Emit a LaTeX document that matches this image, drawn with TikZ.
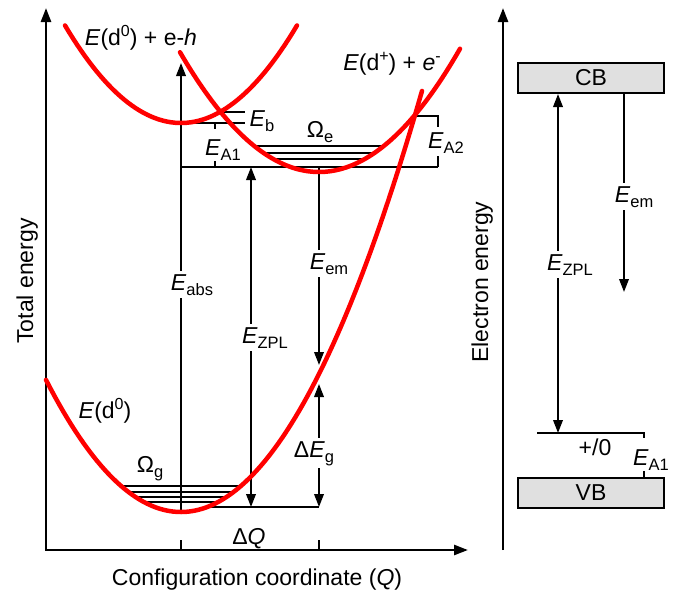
\documentclass[tikz,border=0pt]{standalone}
\usepackage{fontspec}
\setmainfont{Liberation Sans}
\usepackage{tikz}
\usetikzlibrary{arrows.meta,positioning,calc}
\definecolor{potred}{HTML}{FF0000}
\definecolor{bandgray}{HTML}{E0E0E0}
\newcommand{\subtxt}[1]{\raisebox{-5pt}{\fontsize{16.5}{18}\selectfont #1}}
\newcommand{\suptxt}[1]{\raisebox{9pt}{\fontsize{16}{18}\selectfont #1}}
\tikzset{
  >={Triangle[length=13pt,width=9.5pt]},
  % axlar
  ax/.style={line width=2.6pt,>={Triangle[length=14pt,width=10pt]}},
  % kurvor och nivaer
  pot/.style={draw=potred,line width=4.5pt,line cap=round},
  lvl/.style={draw=black,line width=2pt},
  tr/.style={draw=black,line width=2pt},
  lbl/.style={anchor=base,inner sep=0pt},
  cut/.style={anchor=base,fill=white,inner sep=3pt},
  band/.style={draw=black,fill=bandgray,line width=2pt,minimum width=146pt,
               minimum height=30pt,inner sep=0pt},
}
\begin{document}
\begin{tikzpicture}[x=1pt,y=-1pt,every node/.append style={font=\fontsize{23}{27}\selectfont}]
  \useasboundingbox (0,0) rectangle (679,589);
  % axlar
  \coordinate (o) at (46,550);
  \coordinate (yt) at (46,8);
  \coordinate (xt) at (468,550);
  \coordinate (ro) at (503,550);
  \coordinate (rt) at (503,8);
  \draw[ax,<->] (yt) -- (o) -- (xt);
  \draw[ax,->] (ro) -- (rt);
  \coordinate (q0) at (181,550);
  \coordinate (q1) at (319,550);
  \draw[lvl] (q0) -- ++(0,-10);
  \draw[lvl] (q1) -- ++(0,-10);
  \node[lbl,rotate=90] (tot) at (33,281) {Total energy};
  \node[lbl] (cfg) at (257,585) {Configuration coordinate (\textit{Q})};
  \node[lbl,rotate=90] (eln) at (488,282) {Electron energy};
  \node[lbl] (dq) at (249,544) {Δ\textit{Q}};
  % nivaer
  \foreach \y in {486,491.5,497,502} {
    \pgfmathsetmacro\dx{sqrt(512-\y)/0.08515}
    \draw[lvl] ({181-\dx},\y) -- ({181+\dx},\y);
  }
  \foreach \y in {146,152.5,159} {
    \pgfmathsetmacro\dx{sqrt(172-\y)/0.07874}
    \draw[lvl] ({319-\dx},\y) -- ({319+\dx},\y);
  }
  \draw[lvl] (207,507) -- (319,507);
  \draw[lvl] (181,167) -- (438,167);
  \draw[lvl] (181,123) -- (245,123);
  \draw[lvl] (221,112) -- (245,112);
  \draw[lvl] (215,123) -- (215,129);
  \draw[lvl] (215,161) -- (215,167);
  \draw[lvl] (416,116) -- (438,116) -- (438,127);
  \draw[lvl] (438,156) -- (438,167);
  % overgangar
  \coordinate (a0) at (181,512);
  \coordinate (a1) at (181,63);
  \coordinate (z0) at (251,507);
  \coordinate (z1) at (251,167);
  \coordinate (m0) at (319,167);
  \coordinate (m1) at (319,365);
  \coordinate (g0) at (319,384);
  \coordinate (g1) at (319,507);
  \draw[tr,->] (a0) -- (a1);
  \draw[tr,<->] (z0) -- (z1);
  \draw[tr,->] (m0) -- (m1);
  \draw[tr,<->] (g0) -- (g1);
  \node[cut] (eabs) at (192,290) {\textit{E}\subtxt{abs}};
  \node[cut] (ezpl) at (265,343) {\textit{E}\subtxt{ZPL}};
  \node[cut] (eem) at (329,269) {\textit{E}\subtxt{em}};
  \node[cut] (deg) at (314,457) {Δ\textit{E}\subtxt{g}};
  \node[lbl] (og) at (150,472) {Ω\subtxt{g}};
  \node[lbl] (oe) at (320,137) {Ω\subtxt{e}};
  \node[lbl] (eb) at (262,126) {\textit{E}\subtxt{b}};
  \node[lbl] (ea1) at (223,155) {\textit{E}\subtxt{A1}};
  \node[lbl] (ea2) at (446,148) {\textit{E}\subtxt{A2}};
  % potentialkurvor
  \draw[pot] plot[domain=46:422,samples=90] (\x,{512-(0.08515*(\x-181))^2});
  \draw[pot] plot[domain=65:297,samples=60] (\x,{123-(0.08515*(\x-181))^2});
  \draw[pot] plot[domain=180:460,samples=80] (\x,{172-(0.07874*(\x-319))^2});
  \node[lbl] (pex) at (141,45) {\textit{E}(d\suptxt{0}) + e-\textit{h}};
  \node[lbl] (pdp) at (392,70) {\textit{E}(d\suptxt{+}) + \textit{e}\suptxt{-}};
  \node[lbl] (pgd) at (105,418) {\textit{E}(d\suptxt{0})};
  % bandschema
  \node[band] (cb) at (591,78) {CB};
  \node[band] (vb) at (591,493) {VB};
  \coordinate (acc) at (537,433);
  \coordinate (acr) at (644,433);
  \draw[lvl] (acc) -- (acr) -- ++(0,5);
  \draw[lvl] (acr |- vb.north) -- ++(0,-6);
  \coordinate (zr) at (558,433);
  \coordinate (mr) at (624,292);
  \draw[tr,<->] (zr |- cb.south) -- (zr);
  \draw[tr,->] (mr |- cb.south) -- (mr);
  \node[cut] (ezr) at (570,270) {\textit{E}\subtxt{ZPL}};
  \node[cut] (emr) at (634,202) {\textit{E}\subtxt{em}};
  \node[lbl] (pm) at (595,455) {+/0};
  \node[lbl] (ear) at (651,465) {\textit{E}\subtxt{A1}};
\end{tikzpicture}
\end{document}
